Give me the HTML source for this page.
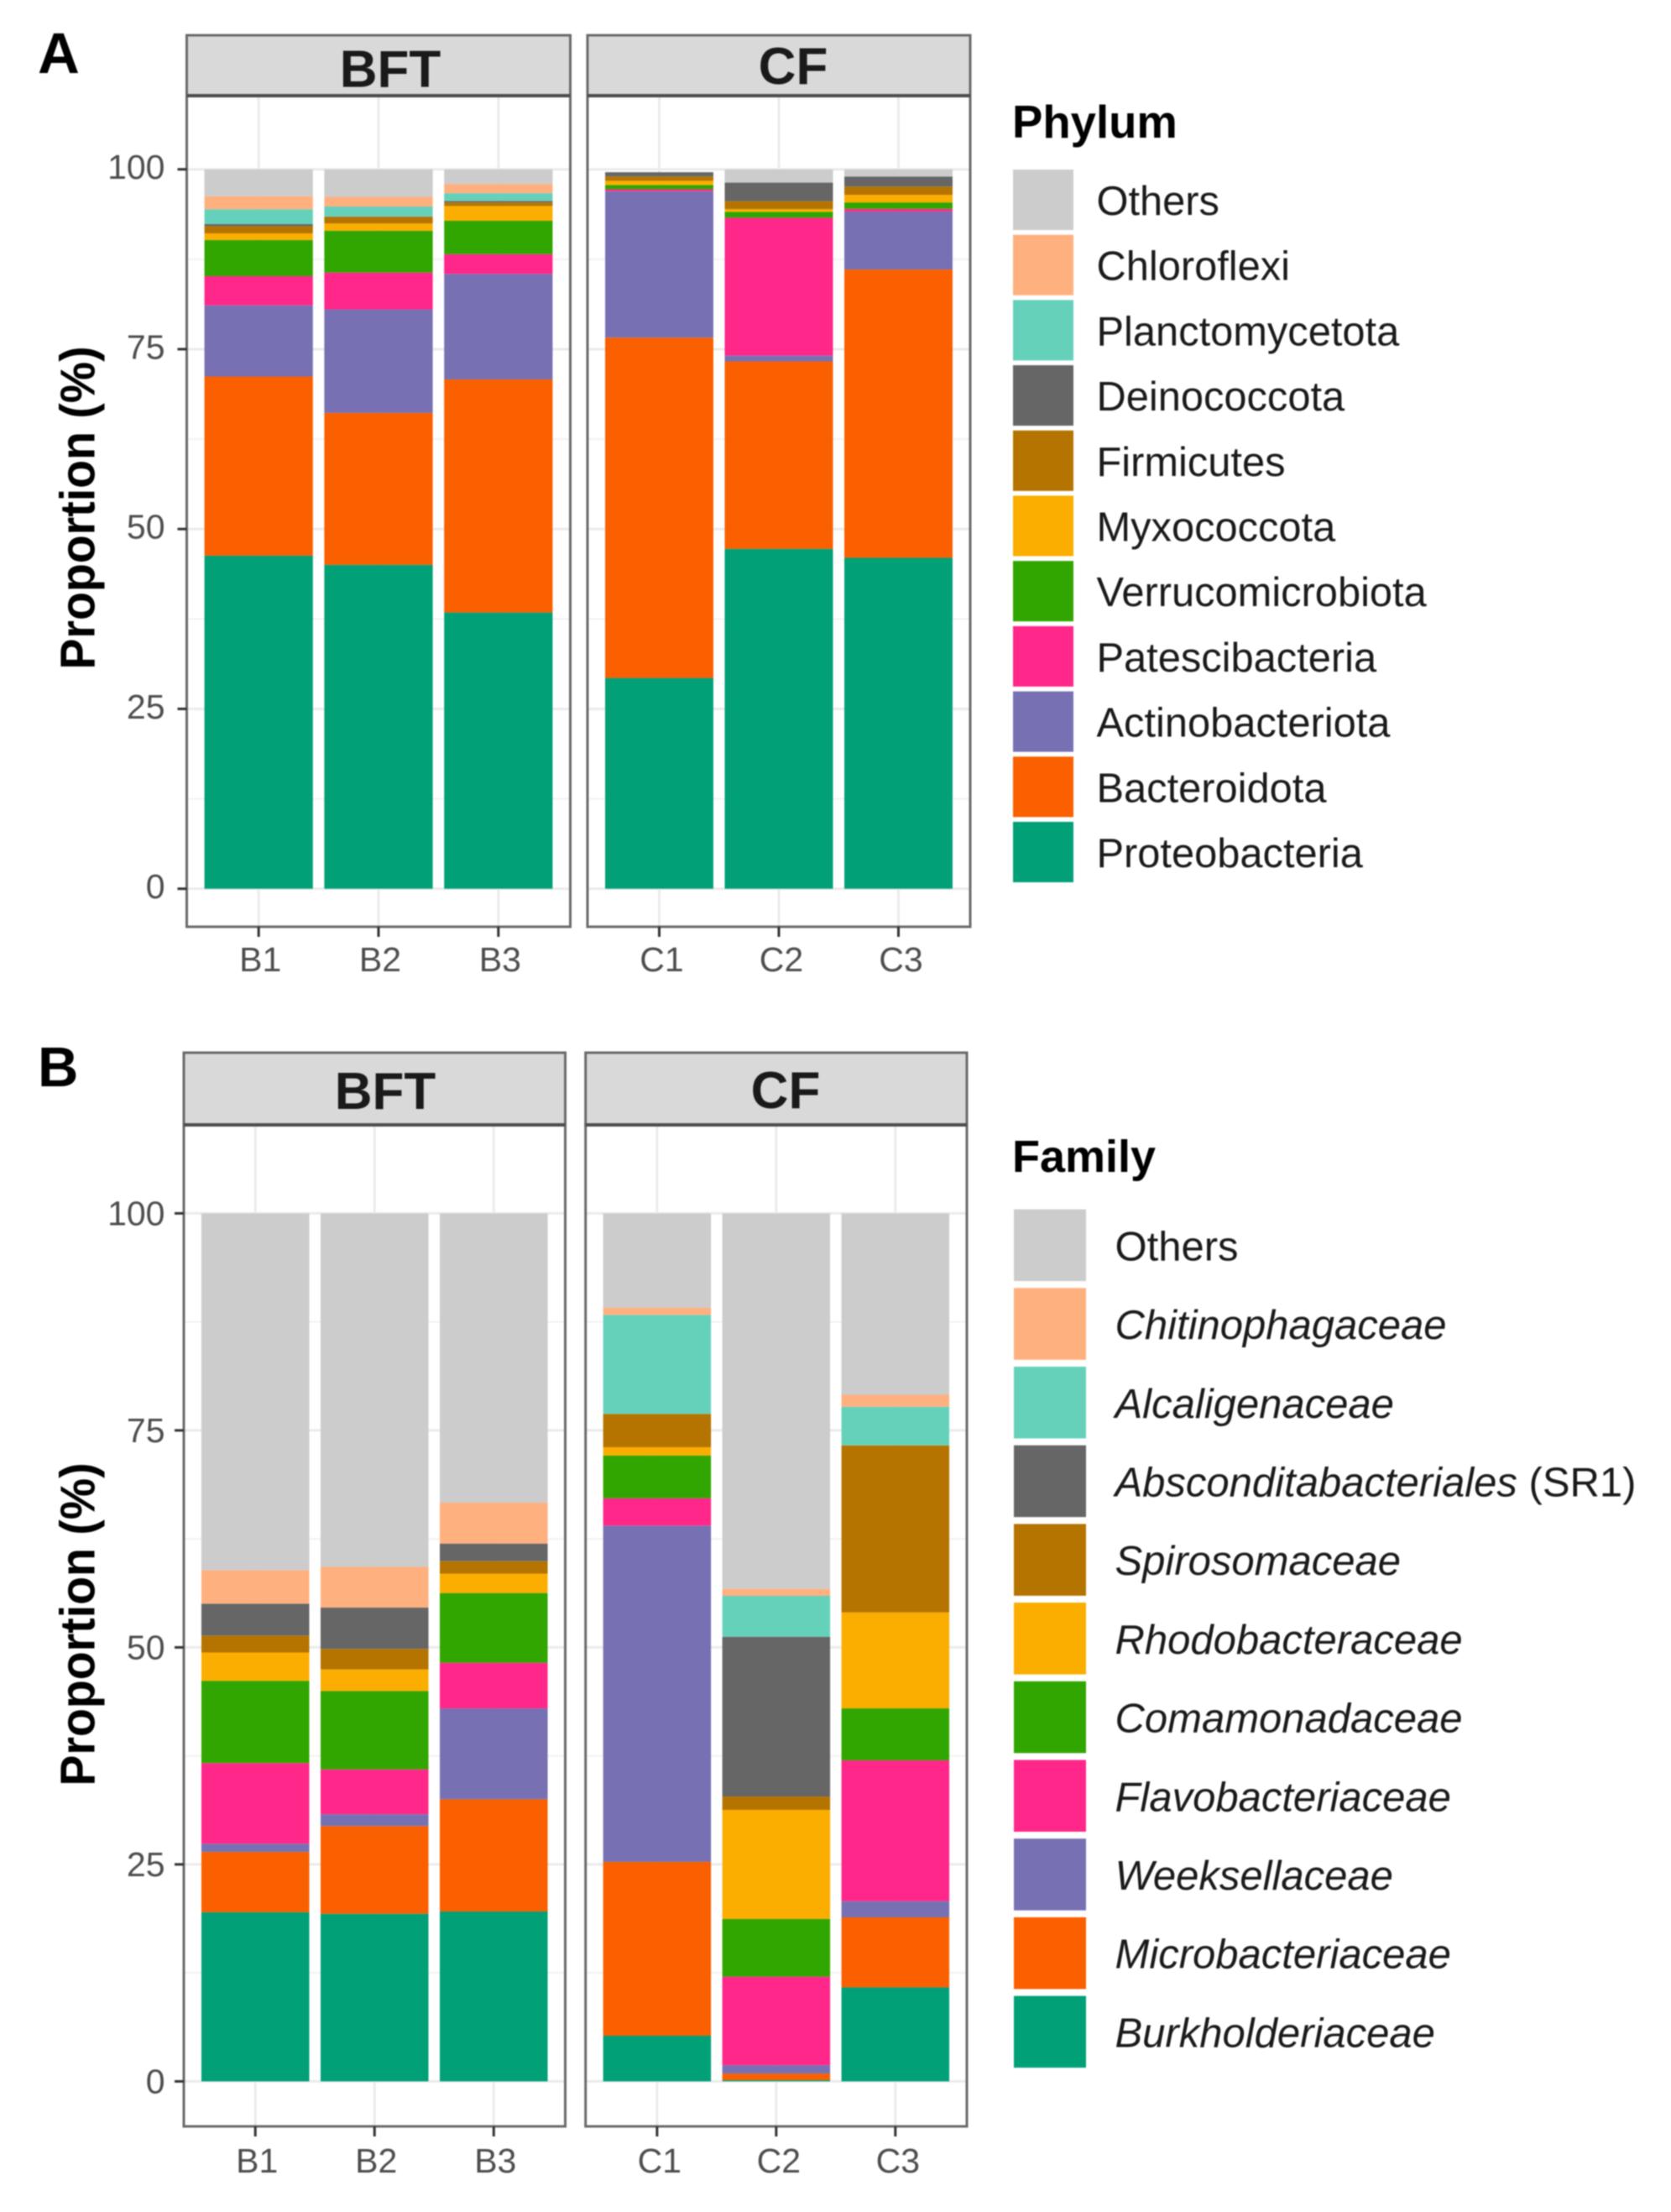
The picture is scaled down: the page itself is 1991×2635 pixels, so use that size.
<!DOCTYPE html>
<html lang="en">
<head>
<meta charset="utf-8">
<title>Phylum and family composition, BFT and CF</title>
<style>
html,body{margin:0;padding:0;background:#fff;}
svg{display:block;}
text{font-family:"Liberation Sans",Arial,sans-serif;}
</style>
</head>
<body>
<svg id="figure" xmlns="http://www.w3.org/2000/svg" width="1991" height="2635" viewBox="0 0 1991 2635">
  <defs>
    <filter id="soften" x="0" y="0" width="100%" height="100%" filterUnits="objectBoundingBox" color-interpolation-filters="sRGB">
      <feGaussianBlur stdDeviation="0.7"/>
    </filter>
  </defs>
  <rect x="0" y="0" width="1991" height="2635" fill="#ffffff"/>
  <g id="figure-content" filter="url(#soften)">
    <rect x="0" y="0" width="1991" height="2635" fill="#ffffff"/>
    <text x="45" y="87" font-size="69" font-weight="700" fill="#000">A</text>
    <text x="45" y="1294" font-size="67" font-weight="700" fill="#000">B</text>
    <text transform="translate(112.5,605) rotate(-90) scale(1,1.06)" text-anchor="middle" font-size="55.5" font-weight="700" fill="#000">Proportion (%)</text>
    <text transform="translate(112.5,1935) rotate(-90) scale(1,1.06)" text-anchor="middle" font-size="55.5" font-weight="700" fill="#000">Proportion (%)</text>
    <text x="1206" y="164" font-size="54.5" font-weight="700" fill="#000">Phylum</text>
    <text x="1206" y="1396" font-size="54" font-weight="700" fill="#000">Family</text>
    <g id="chart-layer"></g>
  </g>
</svg>
<script>
// ---- Shared categories and ticks ----
const bftSamples = ["B1", "B2", "B3"];
const cfSamples = ["C1", "C2", "C3"];
const yTickLabels = [0, 25, 50, 75, 100];
const yMinorTicks = [12.5, 37.5, 62.5, 87.5];

// ---- Phylum values, in sample order B1 B2 B3 C1 C2 C3 (%) ----
const phylumProteobacteria    = [46.3, 45.03, 38.4, 29.3, 47.25, 46.0];
const phylumBacteroidota      = [24.9, 21.11, 32.4, 47.3, 26.05, 40.07];
const phylumActinobacteriota  = [9.9, 14.39, 14.67, 20.36, 0.8, 8.07];
const phylumPatescibacteria   = [4.05, 5.12, 2.73, 0.27, 19.17, 0.36];
const phylumVerrucomicrobiota = [5.03, 5.82, 4.65, 0.6, 0.83, 0.9];
const phylumMyxococcota       = [0.92, 1.01, 2.05, 0.57, 0.36, 1.05];
const phylumFirmicutes        = [1.0, 0.92, 0.5, 0.6, 1.11, 1.15];
const phylumDeinococcota      = [0.29, 0.05, 0.2, 0.6, 2.58, 1.4];
const phylumPlanctomycetota   = [2.07, 1.38, 1.08, 0, 0, 0];
const phylumChloroflexi       = [1.8, 1.34, 1.29, 0, 0, 0];
const phylumOthers            = [3.74, 3.83, 2.03, 0, 1.85, 1.0];

// ---- Family values, in sample order B1 B2 B3 C1 C2 C3 (%) ----
const familyBurkholderiaceae  = [19.49, 19.31, 19.58, 5.26, 0.14, 10.83];
const familyMicrobacteriaceae = [6.94, 10.11, 12.92, 20.03, 0.76, 8.07];
const familyWeeksellaceae     = [0.95, 1.36, 10.47, 38.74, 0.96, 1.86];
const familyFlavobacteriaceae = [9.29, 5.17, 5.26, 3.15, 10.2, 16.23];
const familyComamonadaceae    = [9.48, 9.02, 8.03, 4.92, 6.66, 5.98];
const familyRhodobacteraceae  = [3.26, 2.49, 2.24, 0.96, 12.56, 11.06];
const familySpirosomaceae     = [1.95, 2.36, 1.43, 3.84, 1.54, 19.24];
const familyAbsconditabacteriales = [3.67, 4.76, 2.03, 0, 18.4, 0];
const familyAlcaligenaceae    = [0, 0, 0, 11.4, 4.72, 4.45];
const familyChitinophagaceae  = [3.87, 4.7, 4.71, 0.82, 0.8, 1.38];
const familyOthers            = [41.1, 40.72, 33.33, 10.88, 43.26, 20.9];

// ---- Stack order (bottom to top) ----
const phylumNames = ["Proteobacteria", "Bacteroidota", "Actinobacteriota", "Patescibacteria", "Verrucomicrobiota", "Myxococcota", "Firmicutes", "Deinococcota", "Planctomycetota", "Chloroflexi", "Others"];
const phylumValues = [phylumProteobacteria, phylumBacteroidota, phylumActinobacteriota, phylumPatescibacteria, phylumVerrucomicrobiota, phylumMyxococcota, phylumFirmicutes, phylumDeinococcota, phylumPlanctomycetota, phylumChloroflexi, phylumOthers];
const familyNames = ["Burkholderiaceae", "Microbacteriaceae", "Weeksellaceae", "Flavobacteriaceae", "Comamonadaceae", "Rhodobacteraceae", "Spirosomaceae", "Absconditabacteriales", "Alcaligenaceae", "Chitinophagaceae", "Others"];
const familyValues = [familyBurkholderiaceae, familyMicrobacteriaceae, familyWeeksellaceae, familyFlavobacteriaceae, familyComamonadaceae, familyRhodobacteraceae, familySpirosomaceae, familyAbsconditabacteriales, familyAlcaligenaceae, familyChitinophagaceae, familyOthers];
const seriesColors = ["#02a077", "#fa5f00", "#7771b3", "#ff2789", "#32a600", "#fbad00", "#b57400", "#666666", "#66d1bb", "#ffb07f", "#cccccc"];

const SVG_NS = "http://www.w3.org/2000/svg";
const layer = document.getElementById("chart-layer");

function make(tag, attrs, parent) {
  const el = document.createElementNS(SVG_NS, tag);
  for (const key in attrs) el.setAttribute(key, attrs[key]);
  (parent || layer).appendChild(el);
  return el;
}

function slug(s) {
  return String(s).toLowerCase().replace(/[^a-z0-9]+/g, "-");
}

function drawPanel(spec, frame, samples, offset, names, values) {
  const yScale = function (v) { return frame.y0 - v * frame.pxPerUnit; };
  const step = (spec.right - spec.left) / 3.2;
  const xScale = function (i) { return spec.left + (i + 0.6) * step; };
  const barWidth = step * 0.905;
  const prefix = frame.key + "-" + spec.key;

  const group = make("g", {}, layer);
  
  

  const bg = make("rect", { x: spec.left, y: frame.stripBottom, width: spec.right - spec.left, height: frame.bottom - frame.stripBottom, fill: "#fff" }, group);
  
  

  yMinorTicks.forEach(function (t) {
    const g = make("line", { x1: spec.left, x2: spec.right, y1: yScale(t), y2: yScale(t), stroke: "#f2f2f2", "stroke-width": 2 }, group);
    
    
  });
  yTickLabels.forEach(function (t) {
    const g = make("line", { x1: spec.left, x2: spec.right, y1: yScale(t), y2: yScale(t), stroke: "#ebebeb", "stroke-width": 3 }, group);
    
    
  });
  samples.forEach(function (s, i) {
    const g = make("line", { x1: xScale(i), x2: xScale(i), y1: frame.stripBottom, y2: frame.bottom, stroke: "#ebebeb", "stroke-width": 3 }, group);
    
    
  });

  samples.forEach(function (s, i) {
    let total = 0;
    values.forEach(function (series, k) {
      const v = series[offset + i];
      if (v <= 0) return;
      const bar = make("rect", {
        x: xScale(i) - barWidth / 2,
        y: yScale(total + v),
        width: barWidth,
        height: v * frame.pxPerUnit,
        fill: seriesColors[k]
      }, group);
      
      
      total += v;
    });
  });

  const border = make("rect", { x: spec.left, y: frame.stripBottom, width: spec.right - spec.left, height: frame.bottom - frame.stripBottom, fill: "none", stroke: "#6a6a6a", "stroke-width": 3 }, group);
  
  

  const strip = make("rect", { x: spec.left, y: frame.stripTop, width: spec.right - spec.left, height: frame.stripBottom - frame.stripTop, fill: "#d9d9d9", stroke: "#6a6a6a", "stroke-width": 3 }, group);
  
  

  const stripLine = make("line", { x1: spec.left, x2: spec.right, y1: frame.stripBottom, y2: frame.stripBottom, stroke: "#4d4d4d", "stroke-width": 4 }, group);
  
  

  const stripText = make("text", { x: spec.labelX, y: spec.labelY, "text-anchor": "middle", "font-size": 62, "font-weight": 700, fill: "#1a1a1a" }, group);
  stripText.textContent = spec.label;
  
  

  samples.forEach(function (s, i) {
    const tick = make("line", { x1: xScale(i), x2: xScale(i), y1: frame.bottom, y2: frame.bottom + 12, stroke: "#333", "stroke-width": 3 }, group);
    
    
    const lab = make("text", { x: xScale(i) + spec.tickLabelShift, y: frame.xLabelY, "text-anchor": "middle", "font-size": 41, fill: "#4d4d4d" }, group);
    lab.textContent = s;
    
    
  });

  if (spec.showY) {
    yTickLabels.forEach(function (t) {
      const tick = make("line", { x1: spec.left - 11, x2: spec.left, y1: yScale(t), y2: yScale(t), stroke: "#333", "stroke-width": 3 }, group);
      
      
      const lab = make("text", { x: frame.yLabelRight, y: yScale(t) + frame.yLabelDy, "text-anchor": "end", "font-size": 41, fill: "#4d4d4d" }, group);
      lab.textContent = t;
      
      
    });
  }
}

function drawLegend(spec, names, italic) {
  const group = make("g", {}, layer);
  
  
  const top = names.length - 1;
  for (let k = top; k >= 0; k--) {
    const row = top - k;
    const y = spec.y + row * spec.pitch;
    const sw = make("rect", { x: spec.x, y: y, width: spec.swatchW, height: spec.swatchH, fill: seriesColors[k] }, group);
    
    
    const label = make("text", { x: spec.textX, y: y + spec.swatchH / 2 + 18, "font-size": spec.fontSize, fill: "#1a1a1a" }, group);
    
    
    if (italic && names[k] !== "Others") {
      const name = make("tspan", { "font-style": "italic" }, label);
      name.textContent = names[k];
      if (names[k] === "Absconditabacteriales") {
        const suffix = make("tspan", {}, label);
        suffix.textContent = " (SR1)";
      }
    } else {
      label.textContent = names[k];
    }
  }
}

const frameA = { key: "phylum", stripTop: 42, stripBottom: 114, bottom: 1104, y0: 1058.7, pxPerUnit: 8.57, xLabelY: 1157, yLabelRight: 196.5, yLabelDy: 11.5 };
const frameB = { key: "family", stripTop: 1254, stripBottom: 1340, bottom: 2533, y0: 2479.4, pxPerUnit: 10.34, xLabelY: 2588, yLabelRight: 196.5, yLabelDy: 14 };

drawPanel({ key: "bft", label: "BFT", left: 222.5, right: 679.5, labelX: 465, labelY: 103.5, showY: true, tickLabelShift: 2 }, frameA, bftSamples, 0, phylumNames, phylumValues);
drawPanel({ key: "cf", label: "CF", left: 700, right: 1156, labelX: 945, labelY: 100, showY: false, tickLabelShift: 3 }, frameA, cfSamples, 3, phylumNames, phylumValues);
drawPanel({ key: "bft", label: "BFT", left: 219, right: 673.5, labelX: 459, labelY: 1321, showY: true, tickLabelShift: 2 }, frameB, bftSamples, 0, familyNames, familyValues);
drawPanel({ key: "cf", label: "CF", left: 697.7, right: 1152, labelX: 936, labelY: 1320, showY: false, tickLabelShift: 3 }, frameB, cfSamples, 3, familyNames, familyValues);

drawLegend({ key: "phylum", x: 1207, y: 202, pitch: 77.7, swatchW: 72, swatchH: 72, textX: 1306.5, fontSize: 48.8 }, phylumNames, false);
drawLegend({ key: "family", x: 1208, y: 1440.6, pitch: 93.7, swatchW: 86, swatchH: 85.5, textX: 1328.5, fontSize: 49 }, familyNames, true);
</script>
</body>
</html>
